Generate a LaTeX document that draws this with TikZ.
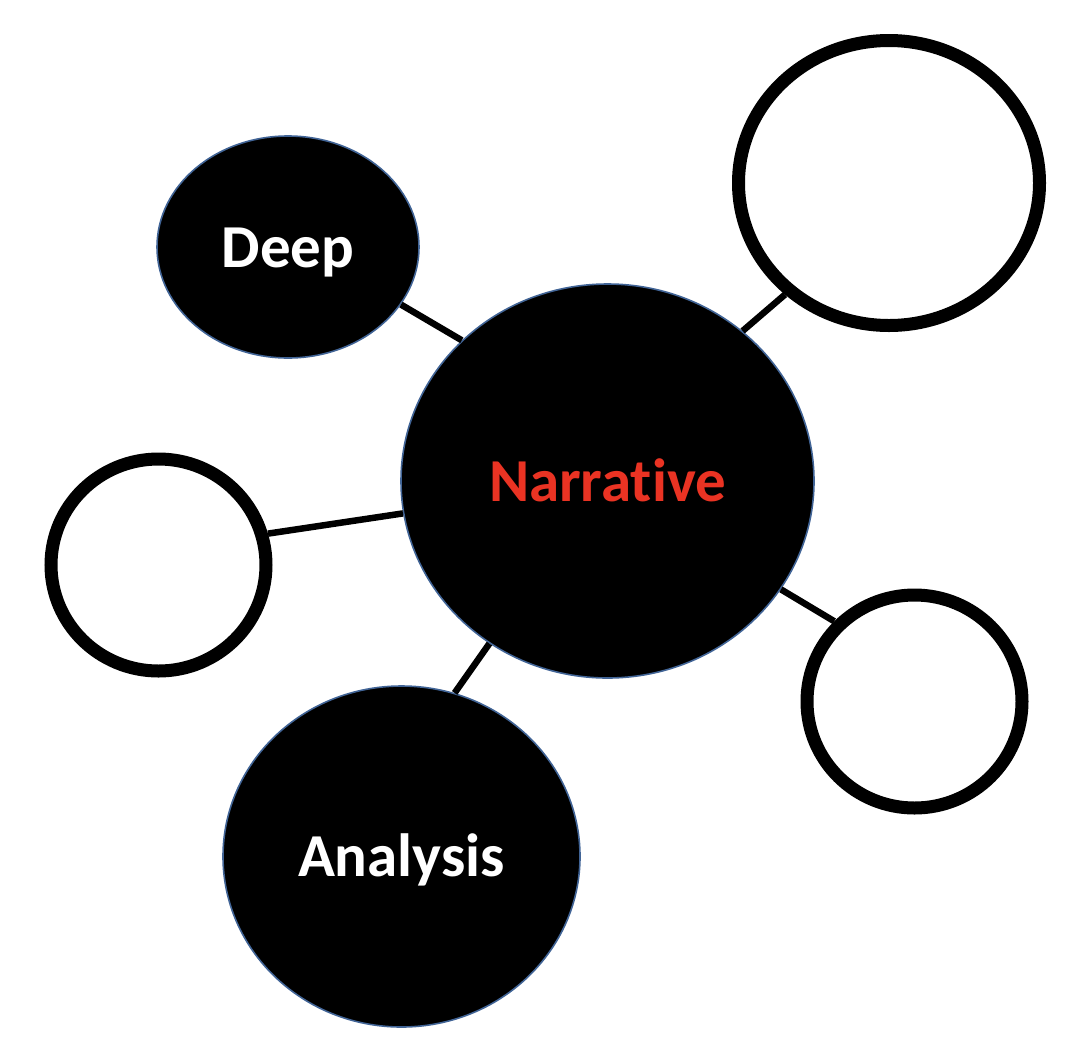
\documentclass[tikz,border=0pt]{standalone}
\usepackage{fontspec}
\newfontfamily\mapfont{Carlito}[Ligatures={NoCommon}]
\definecolor{edgeblue}{RGB}{65, 100, 150}
\definecolor{hotred}{RGB}{234, 51, 35}
\usepackage{tikz}
\usetikzlibrary{shapes.geometric, positioning, calc}
\tikzset{
    topicbox/.style={draw=edgeblue, ellipse, fill=black, line width=1.6pt, inner sep=0pt, text height=40pt, text depth=0pt, font=\mapfont\bfseries\fontsize{61}{70}\selectfont, text=white},
    blankbox/.style={draw=black, ellipse, fill=white, line width=13pt, inner sep=0pt},
    linkline/.style={draw=black, line width=6.5pt},
}
\begin{document}
\begin{tikzpicture}[x=1pt, y=-1pt]
                \useasboundingbox (0,0) rectangle (1068,1050);

                % Centre
                \node[topicbox, minimum width=413pt, minimum height=394pt, text=hotred] (narrative) at (607.5, 481) {Narrative};

                % Filled topics
                \node[topicbox, minimum width=262pt, minimum height=222pt] (deep) at (288, 247) {Deep};
                \node[topicbox, minimum width=357pt, minimum height=341pt] (analysis) at (401.5, 856.5) {Analysis};

                % Empty topics
                \node[blankbox, minimum width=301pt, minimum height=285pt] (blanktop) at (889, 183) {};
                \node[blankbox, minimum width=215pt, minimum height=212pt] (blankleft) at (158.5, 565) {};
                \node[blankbox, minimum width=215pt, minimum height=213pt] (blankright) at (914.5, 701.5) {};

                % Links
                \draw[linkline] (deep.-27) -- (narrative.136.5);
                \draw[linkline] (narrative.48.4) -- (blanktop.227.4);
                \draw[linkline] (blankleft.16.3) -- (narrative.189.3);
                \draw[linkline] (narrative.-32) -- (blankright.135);
                \draw[linkline] (narrative.234) -- (analysis.72);
            \end{tikzpicture}
\end{document}
